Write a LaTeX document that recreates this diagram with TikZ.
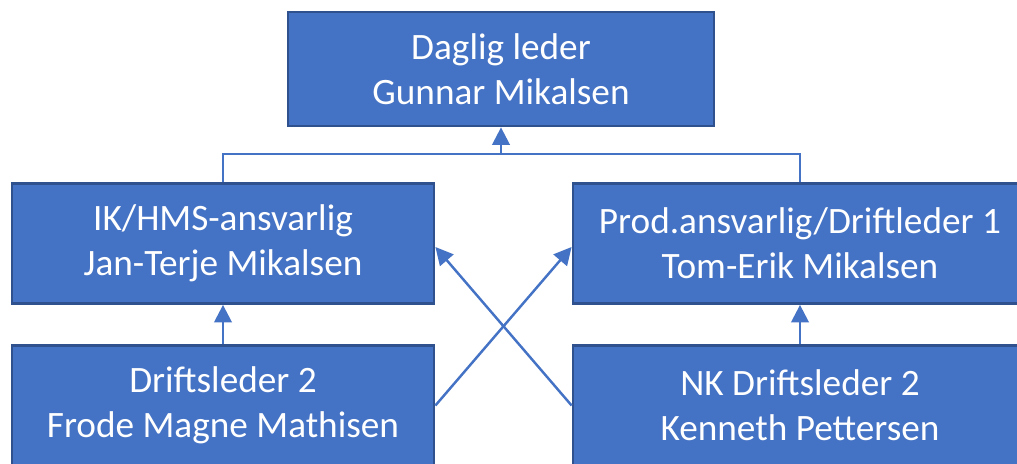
\documentclass[tikz,border=0pt]{standalone}
\usepackage{fontspec}
\setmainfont{Carlito}
\usetikzlibrary{arrows.meta}

\definecolor{boxfill}{HTML}{4472C4}
\definecolor{boxline}{HTML}{2F528F}

\tikzset{
  orgbox/.style={draw=boxline, line width=1.6pt, fill=boxfill, text=white,
    align=center, minimum width=8.44cm, minimum height=2.4cm,
    font=\fontsize{21.2pt}{25.6pt}\selectfont},
  link/.style={draw=boxfill, line width=1.4pt},
  uparrow/.style={link, -{Triangle[width=10pt, length=10pt]}}
}

\begin{document}
\begin{tikzpicture}

\def \colL {4.46}
\def \colR {16.0}

\useasboundingbox (0,0) rectangle (20.34,9.28);

% Boxes
\node (leder) at (10.02, 7.90) [orgbox, minimum width=8.52cm, minimum height=2.28cm]
  {Daglig leder\\Gunnar Mikalsen};
\node (hms) at (\colL, 4.41) [orgbox] {IK/HMS-ansvarlig\\Jan-Terje Mikalsen};
\node (prod) at (\colR, 4.41) [orgbox, minimum width=9.08cm] {Prod.ansvarlig/Driftleder 1\\Tom-Erik Mikalsen};
\node (drift) at (\colL, 1.17) [orgbox] {Driftsleder 2\\Frode Magne Mathisen};
\node (nk) at (\colR, 1.17) [orgbox, minimum width=9.08cm] {NK Driftsleder 2\\Kenneth Pettersen};

% Join the middle row to the top
\coordinate (bus) at (10.02, 6.20);
\draw [link] (hms.north) |- (bus) -| (prod.north);
\draw [uparrow] (bus) -- (leder.south);

% Bottom row up
\draw [uparrow] (drift.north) -- (hms.south);
\draw [uparrow] (nk.north) -- (prod.south);

% Crossing lines
\draw [uparrow] (drift.east) -- ([yshift=-0.07cm]prod.west);
\draw [uparrow] (nk.west) -- ([yshift=-0.07cm]hms.east);

\end{tikzpicture}
\end{document}
